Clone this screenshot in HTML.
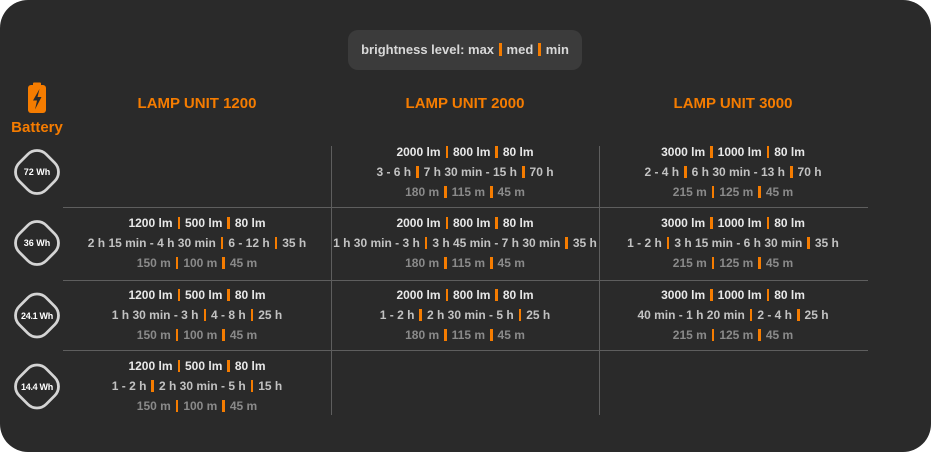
<!DOCTYPE html>
<html><head><meta charset="utf-8">
<style>
html,body{margin:0;padding:0;background:#fff;}
body{width:931px;height:452px;position:relative;overflow:hidden;font-family:"Liberation Sans",Arial,sans-serif;font-weight:bold;}
.card{position:absolute;left:0;top:0;width:931px;height:452px;background:#2a2a2a;border-radius:28px;}
.pill{position:absolute;left:348px;top:30px;width:234px;height:40px;background:#3b3b3b;border-radius:10px;color:#d8d8d8;font-size:13px;line-height:40px;text-align:center;}
.s{display:inline-block;width:2.5px;height:12px;background:#f57c00;margin:0 5px;vertical-align:-2px;}
.pill .s{height:13px;}
.hdr{position:absolute;top:94px;width:268px;text-align:center;color:#f57c00;font-size:15px;line-height:20px;}
.bat{position:absolute;left:0;top:118px;width:74px;text-align:center;color:#f57c00;font-size:15px;line-height:20px;}
.cell{position:absolute;width:268px;text-align:center;font-size:12px;line-height:20px;white-space:nowrap;}
.cell div:nth-child(1){color:#e8e8e8;}
.cell div:nth-child(2){color:#c2c2c2;}
.cell div:nth-child(3){color:#8a8a8a;}
.hl{position:absolute;left:63px;width:805px;height:1px;background:#5e5e5e;}
.vl{position:absolute;top:146px;height:269px;width:1px;background:#5e5e5e;}
.bt{position:absolute;left:0;width:74px;text-align:center;color:#fff;font-size:9px;line-height:12px;}
</style></head><body>
<div class="card"></div>
<div class="pill">brightness level: max<span class="s"></span>med<span class="s"></span>min</div>

<svg style="position:absolute;left:0;top:0" width="931" height="452">
  <rect x="33" y="82.5" width="8" height="4" rx="1" fill="#f57c00"/>
  <rect x="28" y="85" width="18" height="28" rx="3" fill="#f57c00"/>
  <path d="M39.5 89 L33 100.5 L37 100.5 L35 109.5 L41.5 97 L37.5 97 Z" fill="#2a2a2a"/>
  <g fill="none" stroke="#d4d4d4" stroke-width="2.8">
    <rect x="-19" y="-19" width="38" height="38" rx="13" transform="translate(37,172) rotate(45)"/>
    <rect x="-19" y="-19" width="38" height="38" rx="13" transform="translate(37,243) rotate(45)"/>
    <rect x="-19" y="-19" width="38" height="38" rx="13" transform="translate(37,315.5) rotate(45)"/>
    <rect x="-19" y="-19" width="38" height="38" rx="13" transform="translate(37,386.5) rotate(45)"/>
  </g>
</svg>
<div class="bat">Battery</div>
<div class="bt" style="top:166px">72 Wh</div>
<div class="bt" style="top:237px">36 Wh</div>
<div class="bt" style="top:309.5px;letter-spacing:-0.3px">24.1 Wh</div>
<div class="bt" style="top:380.5px;letter-spacing:-0.3px">14.4 Wh</div>

<div class="hdr" style="left:63px">LAMP UNIT 1200</div>
<div class="hdr" style="left:331px">LAMP UNIT 2000</div>
<div class="hdr" style="left:599px">LAMP UNIT 3000</div>

<div class="vl" style="left:331px"></div>
<div class="vl" style="left:599px"></div>
<div class="hl" style="top:207px"></div>
<div class="hl" style="top:280px"></div>
<div class="hl" style="top:350px"></div>

<!-- row 1 -->
<div class="cell" style="left:331px;top:142px">
<div>2000 lm<span class="s"></span>800 lm<span class="s"></span>80 lm</div>
<div>3 - 6 h<span class="s"></span>7 h 30 min - 15 h<span class="s"></span>70 h</div>
<div>180 m<span class="s"></span>115 m<span class="s"></span>45 m</div>
</div>
<div class="cell" style="left:599px;top:142px">
<div>3000 lm<span class="s"></span>1000 lm<span class="s"></span>80 lm</div>
<div>2 - 4 h<span class="s"></span>6 h 30 min - 13 h<span class="s"></span>70 h</div>
<div>215 m<span class="s"></span>125 m<span class="s"></span>45 m</div>
</div>

<!-- row 2 -->
<div class="cell" style="left:63px;top:213px">
<div>1200 lm<span class="s"></span>500 lm<span class="s"></span>80 lm</div>
<div>2 h 15 min - 4 h 30 min<span class="s"></span>6 - 12 h<span class="s"></span>35 h</div>
<div>150 m<span class="s"></span>100 m<span class="s"></span>45 m</div>
</div>
<div class="cell" style="left:331px;top:213px">
<div>2000 lm<span class="s"></span>800 lm<span class="s"></span>80 lm</div>
<div>1 h 30 min - 3 h<span class="s"></span>3 h 45 min - 7 h 30 min<span class="s"></span>35 h</div>
<div>180 m<span class="s"></span>115 m<span class="s"></span>45 m</div>
</div>
<div class="cell" style="left:599px;top:213px">
<div>3000 lm<span class="s"></span>1000 lm<span class="s"></span>80 lm</div>
<div>1 - 2 h<span class="s"></span>3 h 15 min - 6 h 30 min<span class="s"></span>35 h</div>
<div>215 m<span class="s"></span>125 m<span class="s"></span>45 m</div>
</div>

<!-- row 3 -->
<div class="cell" style="left:63px;top:285px">
<div>1200 lm<span class="s"></span>500 lm<span class="s"></span>80 lm</div>
<div>1 h 30 min - 3 h<span class="s"></span>4 - 8 h<span class="s"></span>25 h</div>
<div>150 m<span class="s"></span>100 m<span class="s"></span>45 m</div>
</div>
<div class="cell" style="left:331px;top:285px">
<div>2000 lm<span class="s"></span>800 lm<span class="s"></span>80 lm</div>
<div>1 - 2 h<span class="s"></span>2 h 30 min - 5 h<span class="s"></span>25 h</div>
<div>180 m<span class="s"></span>115 m<span class="s"></span>45 m</div>
</div>
<div class="cell" style="left:599px;top:285px">
<div>3000 lm<span class="s"></span>1000 lm<span class="s"></span>80 lm</div>
<div>40 min - 1 h 20 min<span class="s"></span>2 - 4 h<span class="s"></span>25 h</div>
<div>215 m<span class="s"></span>125 m<span class="s"></span>45 m</div>
</div>

<!-- row 4 -->
<div class="cell" style="left:63px;top:355.5px">
<div>1200 lm<span class="s"></span>500 lm<span class="s"></span>80 lm</div>
<div>1 - 2 h<span class="s"></span>2 h 30 min - 5 h<span class="s"></span>15 h</div>
<div>150 m<span class="s"></span>100 m<span class="s"></span>45 m</div>
</div>
</body></html>
